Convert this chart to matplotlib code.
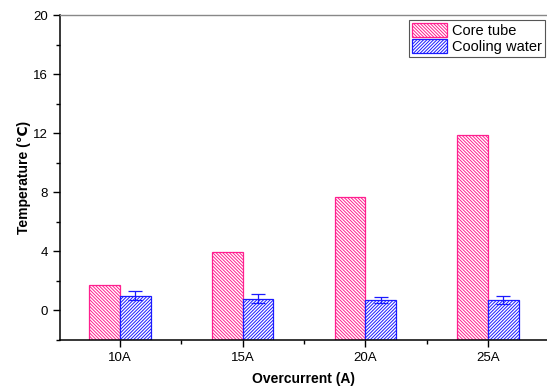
import matplotlib
matplotlib.use("Agg")
import matplotlib.pyplot as plt
import numpy as np
from matplotlib.ticker import MultipleLocator, FixedLocator

plt.rcParams["font.family"] = ["Liberation Sans", "DejaVu Sans"]
plt.rcParams["hatch.linewidth"] = 0.7

categories = ["10A", "15A", "20A", "25A"]
core_tube = [1.75, 3.95, 7.65, 11.9]
cooling_water = [1.0, 0.8, 0.7, 0.7]
cooling_err = [0.3, 0.3, 0.2, 0.25]

pink = "#ff1f8f"
blue = "#1a1aff"
base = -2  # bars are drawn up from the bottom of the value axis

fig = plt.figure(figsize=(5.47, 3.87), dpi=100)
ax = fig.add_axes([0.1097, 0.1214, 0.8903, 0.8398])

x = np.arange(len(categories))
width = 0.25

ax.bar(x - width / 2, np.array(core_tube) - base, width, bottom=base,
       facecolor="white", edgecolor=pink, hatch="\\" * 10, linewidth=0.9,
       label="Core tube")
ax.bar(x + width / 2, np.array(cooling_water) - base, width, bottom=base,
       facecolor="white", edgecolor=blue, hatch="/" * 10, linewidth=0.9,
       label="Cooling water")
ax.errorbar(x + width / 2, cooling_water, yerr=cooling_err, fmt="none",
            ecolor=blue, elinewidth=0.9, capsize=5, capthick=0.9)

ax.set_xlim(-0.49, 3.48)
ax.set_ylim(-2, 20)
ax.set_xticks(x)
ax.set_xticklabels(categories)
ax.xaxis.set_minor_locator(FixedLocator([0.5, 1.5, 2.5]))
ax.yaxis.set_major_locator(MultipleLocator(4))
ax.yaxis.set_minor_locator(MultipleLocator(2))

ax.tick_params(which="major", direction="out", length=5, width=1, labelsize=9.5)
ax.tick_params(which="minor", direction="out", length=3, width=1)
ax.tick_params(axis="y", which="both", right=False)
ax.tick_params(axis="x", which="both", top=False)

ax.spines["right"].set_visible(False)
ax.spines["top"].set_color("#888888")
ax.spines["top"].set_linewidth(1)
ax.spines["left"].set_linewidth(1.1)
ax.spines["bottom"].set_linewidth(1.1)

ax.set_xlabel("Overcurrent (A)", fontsize=10, fontweight="bold", labelpad=6)
ax.set_ylabel("Temperature (℃)", fontsize=10, fontweight="bold", labelpad=2)

leg = ax.legend(loc="upper right", bbox_to_anchor=(0.995, 0.985), fontsize=10.5,
                fancybox=False, framealpha=1, edgecolor="#555555",
                handlelength=2.4, handleheight=1.1, borderpad=0.2,
                labelspacing=0.1, handletextpad=0.3, borderaxespad=0)
leg.get_frame().set_linewidth(0.8)

fig.savefig("out.png", dpi=100)
